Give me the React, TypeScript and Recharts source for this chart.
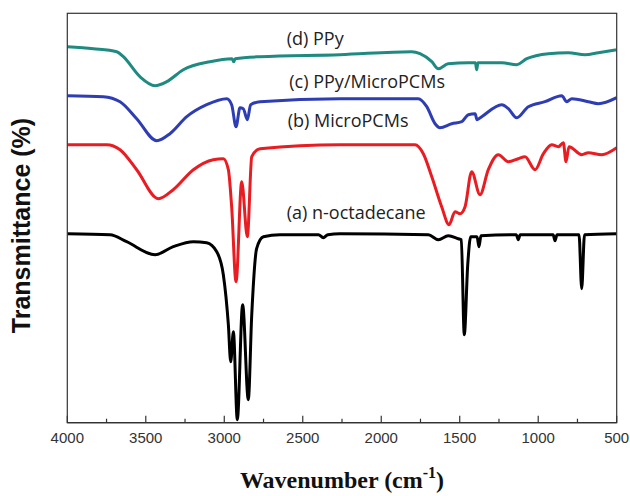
import React from 'react'
import { LineChart, Line, XAxis, YAxis } from 'recharts'

// wavenumbers (cm-1) and relative transmittance (arbitrary units, offset per curve)
const ppyWn = [4000, 3834, 3685, 3643, 3537, 3441, 3367, 3261, 3091, 2950, 2940, 2930, 2772, 2263, 1806, 1753, 1678, 1636, 1573, 1445, 1400, 1392, 1384, 1232, 1137, 1073, 935, 808, 702, 617, 500]
const ppyT = [376, 374, 371, 366, 346, 337, 341, 353, 361, 364, 361, 364, 366, 368, 371, 369, 361, 354, 359, 360, 360, 353, 360, 360, 358, 364, 369, 370, 368, 370, 373]

const compositeWn = [4000, 3771, 3664, 3558, 3430, 3346, 3239, 3112, 2984, 2953, 2925, 2900, 2879, 2853, 2832, 2772, 2263, 1764, 1710, 1657, 1626, 1551, 1487, 1445, 1402, 1390, 1360, 1232, 1190, 1137, 1063, 957, 850, 818, 786, 681, 617, 500]
const compositeT = [327, 326, 321, 304, 282, 289, 306, 318, 324, 318, 296, 315, 314, 303, 318, 321, 324, 324, 316, 299, 295, 299, 301, 308, 309, 303, 306, 318, 314, 305, 316, 321, 327, 321, 324, 321, 319, 325]

const microWn = [4000, 3749, 3664, 3558, 3420, 3325, 3197, 3070, 3006, 2974, 2953, 2925, 2889, 2853, 2825, 2772, 2263, 1785, 1732, 1678, 1615, 1568, 1530, 1498, 1466, 1424, 1371, 1318, 1254, 1190, 1127, 1084, 1020, 967, 914, 872, 840, 823, 804, 723, 681, 595, 500]
const microT = [278, 278, 273, 253, 224, 233, 253, 263, 264, 253, 216, 141, 241, 186, 266, 274, 278, 278, 269, 246, 216, 198, 211, 209, 216, 251, 228, 253, 268, 261, 264, 266, 253, 269, 278, 276, 280, 261, 276, 268, 270, 268, 275]

const octadecaneWn = [4000, 3728, 3622, 3441, 3325, 3197, 3112, 3048, 3006, 2974, 2959, 2942, 2917, 2883, 2847, 2825, 2794, 2751, 2645, 2400, 2369, 2340, 2263, 1700, 1636, 1573, 1509, 1490, 1471, 1449, 1430, 1390, 1377, 1365, 1140, 1127, 1115, 905, 893, 880, 740, 723, 705, 500]
const octadecaneT = [189, 188, 181, 168, 176, 181, 180, 171, 148, 98, 61, 91, 3, 118, 23, 108, 174, 186, 188, 188, 185, 188, 189, 188, 183, 187, 184, 183, 88, 158, 186, 186, 176, 187, 188, 183, 188, 188, 182, 188, 188, 134, 188, 189]

const xTicks = [4000, 3750, 3500, 3250, 3000, 2750, 2500, 2250, 2000, 1750, 1500, 1250, 1000, 750, 500]

const series = [
  { name: '(d) PPy', wn: ppyWn, t: ppyT, color: '#1f8a80', lx: 286.7, ly: 45 },
  { name: '(c) PPy/MicroPCMs', wn: compositeWn, t: compositeT, color: '#2e3db3', lx: 289.3, ly: 88.3 },
  { name: '(b) MicroPCMs', wn: microWn, t: microT, color: '#e91c22', lx: 287.7, ly: 126.7 },
  { name: '(a) n-octadecane', wn: octadecaneWn, t: octadecaneT, color: '#000000', lx: 286.7, ly: 219 },
]

const toRows = (wn: number[], t: number[]) => wn.map((w, i) => ({ wn: w, t: t[i] }))

const AXIS = '#333'
const plot = { left: 67.3, top: 13.3, right: 13.3, bottom: 43.3 }

function Tick(props: any) {
  const { x, y, payload } = props
  const major = payload.value % 500 === 0
  return (
    <g>
      <line x1={x} x2={x} y1={y} y2={y - (major ? 7 : 4)} stroke={AXIS} strokeWidth={1.2} />
      {major && (
        <text x={x} y={y + 20.6} textAnchor="middle" fontSize={15} fill="#333" fontFamily="'Liberation Sans', Arial, sans-serif">
          {payload.value}
        </text>
      )}
    </g>
  )
}

export default function App() {
  const w = 630
  const h = 496
  const xAxisH = 30
  return (
    <div style={{ position: 'absolute', left: 0, top: 0, width: w, height: h, background: '#fff' }}>
      <LineChart width={w} height={h} margin={plot}>
        <XAxis
          type="number"
          dataKey="wn"
          domain={[500, 4000]}
          reversed
          ticks={xTicks}
          interval={0}
          allowDataOverflow
          height={xAxisH}
          tickSize={0}
          tickMargin={0}
          tickLine={false}
          axisLine={{ stroke: AXIS, strokeWidth: 1.2 }}
          tick={<Tick />}
        />
        <YAxis type="number" domain={[0, 409.4]} allowDataOverflow width={0} tick={false} tickLine={false} axisLine={false} />
        {series.map((s) => (
          <Line
            key={s.name}
            data={toRows(s.wn, s.t)}
            dataKey="t"
            type="monotone"
            stroke={s.color}
            strokeWidth={3}
            dot={false}
            isAnimationActive={false}
          />
        ))}
      </LineChart>
      <svg width={w} height={h} style={{ position: 'absolute', left: 0, top: 0, pointerEvents: 'none' }}>
        {/* frame around the plot area */}
        <rect
          x={plot.left}
          y={plot.top}
          width={w - plot.left - plot.right}
          height={h - plot.top - plot.bottom - xAxisH}
          fill="none"
          stroke={AXIS}
          strokeWidth={1.2}
        />
        {series.map((s) => (
          <text key={s.name} x={s.lx} y={s.ly} fontSize={18} fill="#222" fontFamily="'Open Sans', sans-serif">
            {s.name}
          </text>
        ))}
        <text
          x={30}
          y={225.5}
          transform="rotate(-90, 30, 225.5)"
          textAnchor="middle"
          fontSize={25}
          fontWeight="bold"
          fill="#111"
          fontFamily="'Liberation Sans', Arial, sans-serif"
        >
          Transmittance (%)
        </text>
        <text x={342} y={488} textAnchor="middle" fontSize={24} fontWeight="bold" fill="#111" fontFamily="'Liberation Serif', 'Times New Roman', serif">
          Wavenumber (cm
          <tspan fontSize={16} dy={-10}>-1</tspan>
          <tspan dy={10}>)</tspan>
        </text>
      </svg>
    </div>
  )
}
